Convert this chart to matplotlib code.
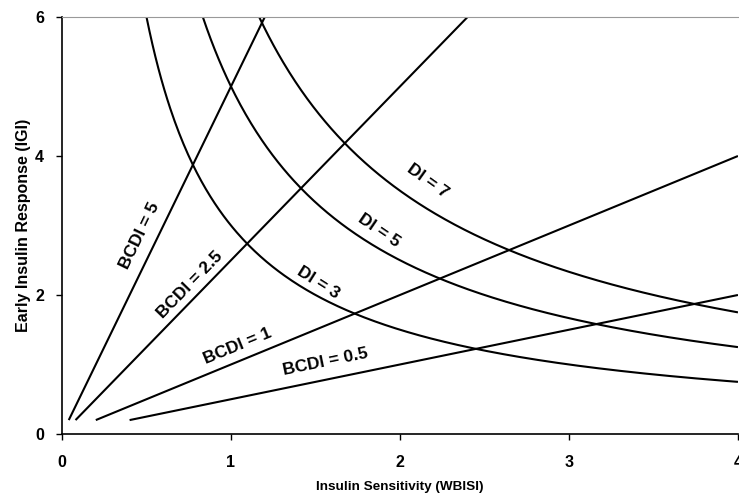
import numpy as np
import matplotlib
matplotlib.use("Agg")
import matplotlib.pyplot as plt

# Chart parameters
di_values = [3, 5, 7]               # hyperbolas: IGI = DI / WBISI
bcdi_values = [5, 2.5, 1, 0.5]      # lines: IGI = BCDI * WBISI
line_start_y = 0.2                  # lines begin at IGI = 0.2
x_ticks = [0, 1, 2, 3, 4]
y_ticks = [0, 2, 4, 6]
x_max, y_max = 4, 6

plt.rcParams['font.family'] = ['Liberation Sans', 'DejaVu Sans']

fig = plt.figure(figsize=(7.39, 4.97), dpi=100)
ax = fig.add_axes([0.0839, 0.1268, 0.9147, 0.839])

# DI hyperbolas
for di in di_values:
    xs = np.linspace(di / y_max, x_max, 400)
    ax.plot(xs, di / xs, color='black', lw=1.5, solid_capstyle='butt')

# BCDI lines
for b in bcdi_values:
    x0 = line_start_y / b
    x1 = min(x_max, y_max / b)
    ax.plot([x0, x1], [b * x0, b * x1], color='black', lw=1.5, solid_capstyle='butt')

ax.set_xlim(0, x_max)
ax.set_ylim(0, y_max)
ax.set_xticks(x_ticks)
ax.set_yticks(y_ticks)
ax.tick_params(direction='out', length=4, width=1, labelsize=11.5)
ax.tick_params(axis='x', pad=11)
ax.tick_params(axis='y', pad=9)
for lab in ax.get_xticklabels() + ax.get_yticklabels():
    lab.set_fontweight('bold')

ax.spines['right'].set_visible(False)
ax.spines['top'].set_color('#999999')
ax.spines['left'].set_linewidth(1.2)
ax.spines['bottom'].set_linewidth(1.2)

ax.set_xlabel('Insulin Sensitivity (WBISI)', fontsize=9.7, fontweight='bold', labelpad=8)
ax.set_ylabel('Early Insulin Response (IGI)', fontsize=11.5, fontweight='bold', labelpad=3)

# Labels along curves
fig.canvas.draw()
def px_angle(slope):
    p0 = ax.transData.transform((1, 1))
    p1 = ax.transData.transform((2, 1 + slope))
    return np.degrees(np.arctan2(p1[1] - p0[1], p1[0] - p0[0]))

labels = [
    ('BCDI = 5', 0.462, 2.85, 5),
    ('BCDI = 2.5', 0.757, 2.14, 2.5),
    ('BCDI = 1', 1.04, 1.27, 1),
    ('BCDI = 0.5', 1.56, 1.04, 0.5),
]
for txt, x, y, s in labels:
    ax.text(x, y, txt, rotation=px_angle(s), rotation_mode='anchor',
            ha='center', va='center', fontsize=12.5, fontweight='bold')

di_labels = [
    ('DI = 3', 1.514, 2.17, 3),
    ('DI = 5', 1.876, 2.93, 5),
    ('DI = 7', 2.166, 3.64, 7),
]
for txt, x, y, d in di_labels:
    ax.text(x, y, txt, rotation=px_angle(-d / x ** 2) - 4, rotation_mode='anchor',
            ha='center', va='center', fontsize=12.5, fontweight='bold')

fig.savefig('out.png', dpi=100)
